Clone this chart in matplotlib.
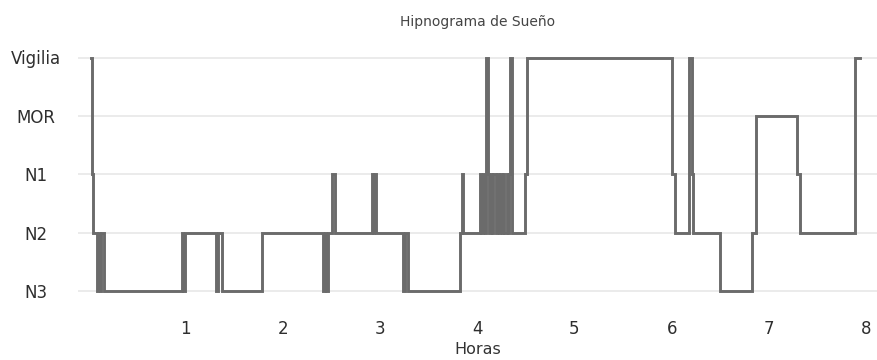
"""Hipnograma de sueño (878x360)."""

import matplotlib
matplotlib.use("Agg")
import matplotlib.pyplot as plt  # noqa: E402

plt.rcParams["font.family"] = ["DejaVu Sans"]

STAGES = ["N3", "N2", "N1", "MOR", "Vigilia"]   # de abajo hacia arriba

# instante (h) en que empieza cada estadio
T_CHANGE = [0.031, 0.041, 0.051, 0.092, 0.103, 0.123, 0.134, 0.164,
            0.966, 0.980, 0.997, 1.316, 1.336, 1.377, 1.788,
            2.415, 2.436, 2.446, 2.467, 2.508, 2.539,
            2.919, 2.934, 2.944, 2.960, 3.237, 3.258, 3.289,
            3.823, 3.844, 3.854,
            4.029, 4.044, 4.060, 4.080, 4.090, 4.111, 4.126, 4.137,
            4.157, 4.167, 4.193, 4.203, 4.224, 4.234, 4.255, 4.265,
            4.275, 4.306, 4.322, 4.332, 4.342, 4.363, 4.491, 4.517,
            6.002, 6.033, 6.173, 6.208, 6.223, 6.495, 6.824, 6.866,
            7.287, 7.317, 7.883]
STAGE = ["Vigilia", "N1", "N2", "N3", "N2", "N3", "N2", "N3",
         "N2", "N3", "N2", "N3", "N2", "N3", "N2",
         "N3", "N2", "N3", "N2", "N1", "N2",
         "N1", "N2", "N1", "N2", "N3", "N2", "N3",
         "N2", "N1", "N2",
         "N1", "N2", "N1", "N2", "Vigilia", "N1", "N2", "N1",
         "N2", "N1", "N2", "N1", "N2", "N1", "N2", "N1",
         "N2", "N1", "N2", "N1", "Vigilia", "N2", "N1", "Vigilia",
         "N1", "N2", "Vigilia", "N1", "N2", "N3", "N2", "MOR",
         "N1", "N2", "Vigilia"]
T_END = 7.934
X_TICKS = [1, 2, 3, 4, 5, 6, 7, 8]

lvl = [STAGES.index(s) + 1 for s in STAGE]
x = T_CHANGE + [T_END]
y = lvl + [lvl[-1]]

fig = plt.figure(figsize=(8.78, 3.6), dpi=100)
ax = fig.add_axes([78 / 878, 40 / 360, 800 / 878, 280 / 360])
ax.step(x, y, where="post", color="#6b6b6b", lw=2.1, solid_joinstyle="miter")

ax.set_xlim(-0.103, 8.12)
ax.set_ylim(0.5, 5.3)
ax.set_yticks(range(1, 6), STAGES)
ax.set_xticks(X_TICKS, [str(t) for t in X_TICKS])
for s in ax.spines.values():
    s.set_visible(False)
ax.grid(axis="y", color="#ebebeb", lw=1.4)
ax.set_axisbelow(True)
ax.tick_params(axis="y", length=0, pad=30, labelsize=12, labelcolor="#2e2e2e")
ax.tick_params(axis="x", length=0, pad=0, labelsize=12, labelcolor="#2e2e2e")
for lab in ax.get_yticklabels():
    lab.set_ha("center")

ax.set_title("Hipnograma de Sueño", fontsize=10, color="#444444", pad=10)
ax.set_xlabel("Horas", fontsize=11.5, color="#333333", labelpad=3)

fig.savefig("out.png", dpi=100)
